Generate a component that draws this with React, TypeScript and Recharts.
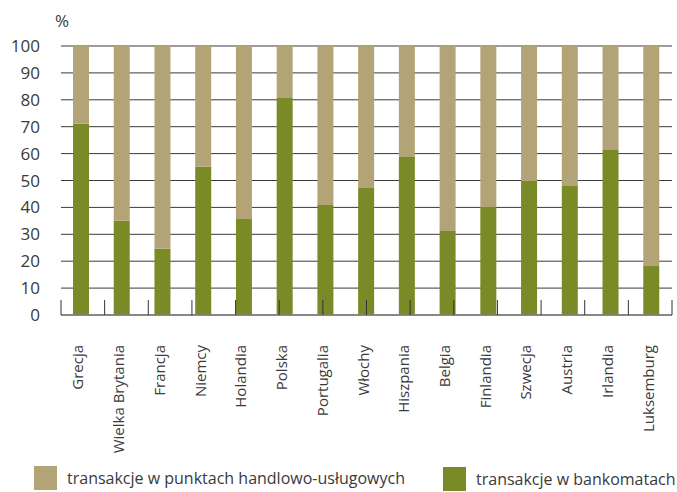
import { BarChart, Bar, XAxis, YAxis, CartesianGrid } from "recharts";

// ─── data ────────────────────────────────────────────────────────────────────

const countries = [
  "Grecja",
  "Wielka Brytania",
  "Francja",
  "Niemcy",
  "Holandia",
  "Polska",
  "Portugalia",
  "Włochy",
  "Hiszpania",
  "Belgia",
  "Finlandia",
  "Szwecja",
  "Austria",
  "Irlandia",
  "Luksemburg",
];

// transakcje w bankomatach (%)
const atmShare = [71.1, 35, 24.6, 55.1, 35.7, 80.7, 40.9, 47.2, 58.7, 31.2, 40.1, 49.8, 48, 61.3, 18.2];

// transakcje w punktach handlowo-usługowych (%)
const posShare = [28.9, 65, 75.4, 44.9, 64.3, 19.3, 59.1, 52.8, 41.3, 68.8, 59.9, 50.2, 52, 38.7, 81.8];

const yTicks = [0, 10, 20, 30, 40, 50, 60, 70, 80, 90, 100];

const seriesLabels = {
  pos: "transakcje w punktach handlowo-usługowych",
  atm: "transakcje w bankomatach",
};

// ─── styling ─────────────────────────────────────────────────────────────────

const GREEN = "#7a8a26";
const TAN = "#b3a477";
const TEXT = "#3a3a3a";
const FONT = "'Open Sans', sans-serif";
const BOUNDARY_TICK = 15;

const rows = countries.map((name, i) => ({
  name,
  atm: atmShare[i],
  pos: posShare[i],
}));

// boundaries between categories, for the small upright ticks on the axis
const boundaries = Array.from({ length: countries.length + 1 }, (_, i) => i);

function CountryTick({ x, y, payload }: { x?: number; y?: number; payload?: { value: string } }) {
  return (
    <g transform={`translate(${x},${y})`}>
      <text
        transform="rotate(-90)"
        x={-22}
        y={-4}
        textAnchor="end"
        dominantBaseline="central"
        fill={TEXT}
        fontSize={15}
        fontFamily={FONT}
      >
        {payload?.value}
      </text>
    </g>
  );
}

// mirrored axis: y is the top end of the tick, so draw down to the axis line
function BoundaryTick({ x, y }: { x?: number; y?: number }) {
  return <line x1={x} x2={x} y1={y} y2={(y ?? 0) + BOUNDARY_TICK} stroke="#333" strokeWidth={1} />;
}

function LegendItem({ color, label, left, top }: { color: string; label: string; left: number; top: number }) {
  return (
    <div style={{ position: "absolute", left, top, display: "flex", alignItems: "center" }}>
      <span style={{ width: 23, height: 24, background: color, display: "inline-block" }} />
      <span style={{ marginLeft: 10, fontSize: 16, color: TEXT, whiteSpace: "nowrap" }}>{label}</span>
    </div>
  );
}

export default function App() {
  return (
    <div
      style={{
        position: "absolute",
        left: 0,
        top: 0,
        width: 677,
        height: 492,
        background: "#fff",
        fontFamily: FONT,
        overflow: "hidden",
      }}
    >
      <div style={{ position: "absolute", left: 55, top: 9, fontSize: 17, color: TEXT }}>%</div>

      <BarChart
        width={677}
        height={458}
        data={rows}
        margin={{ top: 46, right: 5, left: 0, bottom: 0 }}
        barSize={16}
      >
        <CartesianGrid vertical={false} stroke="#3a3a3a" xAxisId="cat" />
        <XAxis
          xAxisId="cat"
          dataKey="name"
          interval={0}
          height={143}
          tickLine={false}
          axisLine={{ stroke: "#808080", strokeWidth: 1.5 }}
          tick={<CountryTick />}
        />
        <XAxis
          xAxisId="bounds"
          type="number"
          domain={[0, countries.length]}
          ticks={boundaries}
          interval={0}
          mirror
          tick={<BoundaryTick />}
          tickSize={BOUNDARY_TICK}
          tickMargin={0}
          axisLine={false}
          tickLine={false}
        />
        <YAxis
          domain={[0, 100]}
          ticks={yTicks}
          width={61}
          tickLine={false}
          axisLine={false}
          tickSize={0}
          tickMargin={21}
          tick={{ fill: TEXT, fontSize: 17, fontFamily: FONT }}
        />
        <Bar dataKey="atm" stackId="a" xAxisId="cat" fill={GREEN} isAnimationActive={false} />
        <Bar dataKey="pos" stackId="a" xAxisId="cat" fill={TAN} isAnimationActive={false} />
      </BarChart>

      <LegendItem color={TAN} label={seriesLabels.pos} left={34} top={466} />
      <LegendItem color={GREEN} label={seriesLabels.atm} left={443} top={467} />
    </div>
  );
}
